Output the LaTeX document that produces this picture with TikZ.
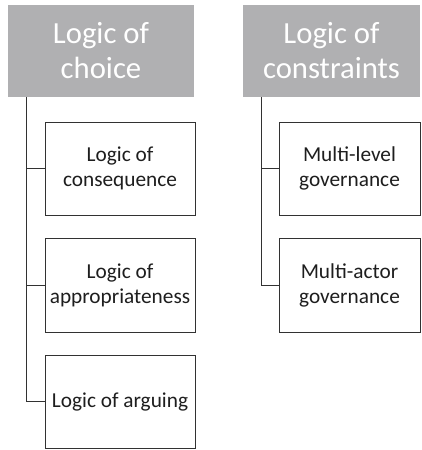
\documentclass[tikz,border=0pt]{standalone}
\usepackage{fontspec}
\setmainfont{Carlito}
\begin{document}
\begin{tikzpicture}[x=1pt,y=-1pt,
  header/.style={fill=hdrgray,draw=none,text=white,inner sep=0pt,align=center,
    font=\fontsize{30.7}{35}\selectfont},
  itembox/.style={draw=boxline,line width=0.8pt,fill=white,inner sep=0pt,align=center,
    text=textgray,font=\fontsize{21.3}{25}\selectfont},
  conn/.style={draw=boxline,line width=0.8pt}]
\definecolor{hdrgray}{RGB}{176,176,178}
\definecolor{boxline}{RGB}{50,50,50}
\definecolor{textgray}{RGB}{30,30,30}
\useasboundingbox (0,0) rectangle (421,450);
% headers
\node[header,minimum width=186,minimum height=92] (choice) at (101,51) {Logic of\\choice};
\node[header,minimum width=177,minimum height=92] (constr) at (331.5,51) {Logic of\\constraints};
% left boxes
\node[itembox,minimum width=150,minimum height=93] (cons) at (120,168.5) {Logic of\\consequence};
\node[itembox,minimum width=150,minimum height=94] (appr) at (120,285) {Logic of\\appropriateness};
\node[itembox,minimum width=150,minimum height=93] (argu) at (120,401.5) {Logic of arguing};
% right boxes
\node[itembox,minimum width=141,minimum height=93] (mlg) at (349.5,168.5) {Multi-level\\governance};
\node[itembox,minimum width=141,minimum height=94] (mag) at (349.5,285) {Multi-actor\\governance};
% connectors
\coordinate (lx) at (26.5,0);
\coordinate (rx) at (261,0);
\draw[conn] (choice.south -| lx) |- (argu.west);
\draw[conn] (lx |- cons.west) -- (cons.west);
\draw[conn] (lx |- appr.west) -- (appr.west);
\draw[conn] (constr.south -| rx) |- (mag.west);
\draw[conn] (rx |- mlg.west) -- (mlg.west);
\end{tikzpicture}
\end{document}
